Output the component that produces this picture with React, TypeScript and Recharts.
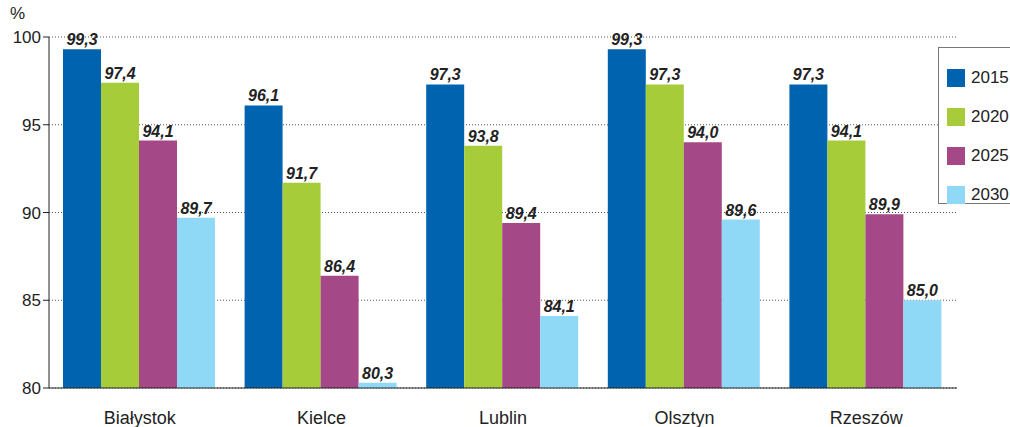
import { BarChart, Bar, XAxis, YAxis, CartesianGrid, LabelList } from "recharts"

const cities = ["Białystok", "Kielce", "Lublin", "Olsztyn", "Rzeszów"]
const years = ["2015", "2020", "2025", "2030"]
const v2015 = [99.3, 96.1, 97.3, 99.3, 97.3]
const v2020 = [97.4, 91.7, 93.8, 97.3, 94.1]
const v2025 = [94.1, 86.4, 89.4, 94.0, 89.9]
const v2030 = [89.7, 80.3, 84.1, 89.6, 85.0]
const yTicks = [80, 85, 90, 95, 100]

const colors = ["#0063b0", "#a6cc3a", "#a44887", "#8fd9f7"]
const series = [v2015, v2020, v2025, v2030]

const data = cities.map((city, i) => {
  const row: Record<string, string | number> = { city, idx: i + 0.5 }
  years.forEach((y, k) => {
    row[y] = series[k][i]
  })
  return row
})

const fmt = (v: any) => Number(v).toFixed(1).replace(".", ",")

// legend box sits over the right edge, partly cut off like in the source
const LegendBox = () => (
  <div
    style={{
      position: "absolute",
      left: 938,
      top: 47,
      border: "1px solid #777",
      width: 100,
      height: 157,
      boxSizing: "border-box",
      padding: "10px 0 0 8px",
      background: "#fff",
    }}
  >
    {years.map((y, k) => (
      <div key={y} style={{ display: "flex", alignItems: "center", height: 39 }}>
        <div style={{ width: 18, height: 18, background: colors[k], marginRight: 6 }} />
        <span style={{ fontSize: 17, color: "#222" }}>{y}</span>
      </div>
    ))}
  </div>
)

export default function App() {
  return (
    <div
      style={{
        position: "absolute",
        left: 0,
        top: 0,
        width: 1010,
        height: 427,
        overflow: "hidden",
        background: "#fff",
        fontFamily: "'Liberation Sans', Arial, sans-serif",
      }}
    >
      <BarChart
        width={1010}
        height={427}
        data={data}
        margin={{ top: 37, right: 53, bottom: 0, left: 0 }}
        barGap={0}
        barCategoryGap={14}
      >
        <CartesianGrid vertical={false} stroke="#555" strokeDasharray="1 2" />
        <XAxis
          xAxisId={0}
          type="number"
          dataKey="idx"
          domain={[0, 5]}
          ticks={[0, 1, 2, 3, 4, 5]}
          tick={false}
          tickSize={5}
          height={5}
          stroke="#222"
          allowDataOverflow
        />
        <XAxis
          xAxisId={1}
          dataKey="city"
          axisLine={false}
          tickLine={false}
          height={34}
          tick={{ fontSize: 18, fill: "#222", dy: 10 }}
          interval={0}
        />
        <YAxis
          domain={[80, 100]}
          ticks={yTicks}
          width={49}
          tickSize={6}
          stroke="#222"
          tick={{ fontSize: 17, fill: "#222" }}
          tickMargin={2}
          allowDataOverflow
          label={{ value: "%", position: "insideTopLeft", offset: 0, dx: 10, dy: -30, fontSize: 17, fill: "#222" }}
        />
        {years.map((y, k) => (
          <Bar key={y} dataKey={y} xAxisId={1} fill={colors[k]} isAnimationActive={false}>
            <LabelList
              dataKey={y}
              position="top"
              formatter={fmt}
              offset={4}
              style={{ fontSize: 16, fontWeight: "bold", fontStyle: "italic", fill: "#222" }}
            />
          </Bar>
        ))}
      </BarChart>
      <LegendBox />
    </div>
  )
}
